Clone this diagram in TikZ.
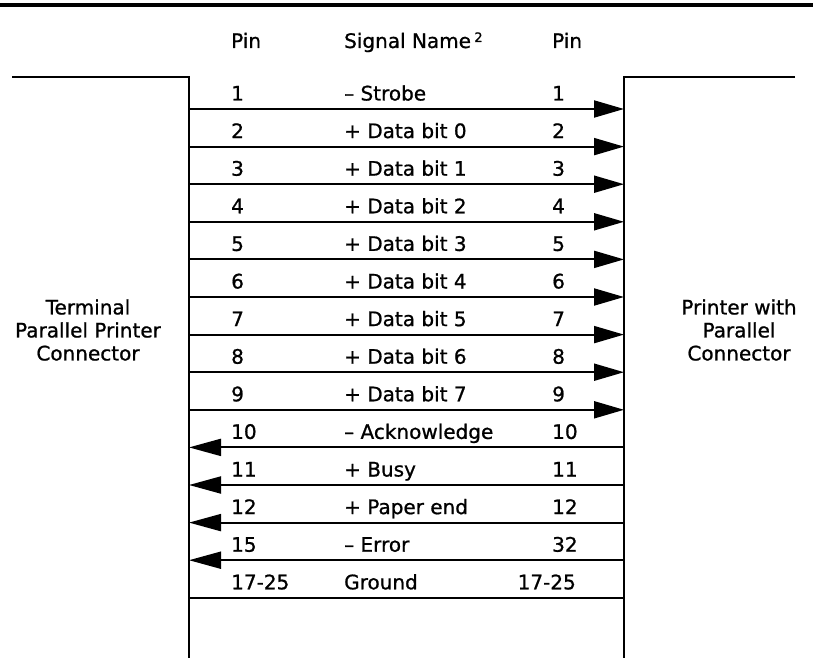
\documentclass[tikz,border=0pt]{standalone}
\usepackage{fontspec}
\setmainfont{DejaVu Sans}[FakeBold=0.9]
\usetikzlibrary{arrows.meta}
\tikzset{
  wire/.style={line width=2pt},
  frame/.style={line width=2pt},
  txt/.style={inner sep=0pt, anchor=base west, font=\fontsize{20}{23}\selectfont},
  txtr/.style={inner sep=0pt, anchor=base east, font=\fontsize{20}{23}\selectfont},
  lbl/.style={inner sep=0pt, align=center, font=\fontsize{20}{23}\selectfont},
  toR/.style={wire, -{Triangle[length=30pt,width=17pt]}},
  toL/.style={wire, -{Triangle[length=32pt,width=17pt]}},
}
\begin{document}
\begin{tikzpicture}[x=1pt,y=-1pt]
\useasboundingbox (0,0) rectangle (813,658);
% top bar
\coordinate (barL) at (0,5);
\coordinate (barR) at (813,5);
\draw[line width=4.5pt] (barL) -- (barR);
% connector outlines
\coordinate (LT0) at (12,77);
\coordinate (LT) at (189,77);
\coordinate (LB) at (189,658);
\coordinate (RT) at (624,77);
\coordinate (RT0) at (795,77);
\coordinate (RB) at (624,658);
\draw[frame] (LT0) -- (LT) -- (LB);
\draw[frame] (RT0) -- (RT) -- (RB);
% header
\node[txt] (hpinL) at (231,48) {Pin};
\node[txt] (hsig) at (344,48) {Signal Name\,\raisebox{6pt}{\fontsize{13}{13}\selectfont 2}};
\node[txt] (hpinR) at (552,48) {Pin};
% side labels
\node[lbl] (term) at (88,330) {Terminal\\Parallel Printer\\Connector};
\node[lbl] (prn) at (739,330) {Printer with\\Parallel\\Connector};
% rows
\foreach \i/\lp/\sn/\rp/\dir in {
  1/1/{– Strobe}/1/R,
  2/2/{+ Data bit 0}/2/R,
  3/3/{+ Data bit 1}/3/R,
  4/4/{+ Data bit 2}/4/R,
  5/5/{+ Data bit 3}/5/R,
  6/6/{+ Data bit 4}/6/R,
  7/7/{+ Data bit 5}/7/R,
  8/8/{+ Data bit 6}/8/R,
  9/9/{+ Data bit 7}/9/R,
  10/10/{– Acknowledge}/10/L,
  11/11/{+ Busy}/11/L,
  12/12/{+ Paper end}/12/L,
  13/15/{– Error}/32/L}{
  \pgfmathsetmacro{\yy}{109+37.6*(\i-1)}
  \coordinate (L\i) at (189,\yy);
  \coordinate (R\i) at (624,\yy);
  \node[txt] (pl\i) at (231,\yy-8.5) {\lp};
  \node[txt] (sn\i) at (344,\yy-8.5) {\sn};
  \node[txt] (pr\i) at (552,\yy-8.5) {\rp};
  \if R\dir
    \draw[toR] (L\i) -- (R\i);
  \else
    \draw[toL] (R\i) -- (L\i);
  \fi
}
% ground row
\coordinate (L14) at (189,597.8);
\coordinate (R14) at (624,597.8);
\node[txt] (pl14) at (231,589.3) {17-25};
\node[txt] (sn14) at (344,589.3) {Ground};
\node[txtr] (pr14) at (576,589.3) {17-25};
\draw[wire] (L14) -- (R14);
\end{tikzpicture}
\end{document}
